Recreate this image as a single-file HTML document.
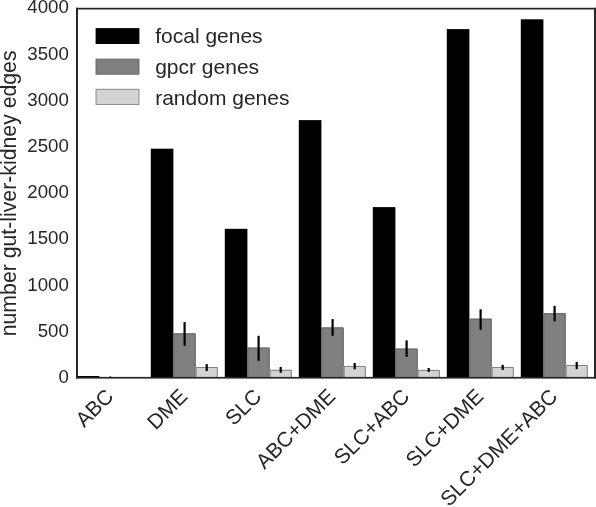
<!DOCTYPE html>
<html><head><meta charset="utf-8"><style>
html,body{margin:0;padding:0;background:#fff;}
body{width:596px;height:507px;overflow:hidden;}
svg{display:block;font-family:"Liberation Sans",sans-serif;will-change:transform;}
</style></head><body>
<svg width="596" height="507" viewBox="0 0 596 507">
<rect x="76.80" y="376.00" width="22.60" height="1.50" fill="#000"/>
<rect x="109.60" y="376.0" width="1.6" height="1.0" fill="#555"/>
<rect x="150.80" y="148.70" width="22.60" height="228.80" fill="#000"/>
<rect x="173.40" y="333.40" width="22.25" height="44.10" fill="#808080" />
<path d="M173.90,377.5 V333.90 H195.15 V377.5" fill="none" stroke="#626262" stroke-width="1"/>
<rect x="195.65" y="367.00" width="22.15" height="10.50" fill="#d3d3d3" />
<path d="M196.15,377.5 V367.50 H217.30 V377.5" fill="none" stroke="#808080" stroke-width="1"/>
<line x1="184.60" x2="184.60" y1="322.1" y2="345.8" stroke="#000" stroke-width="2.2"/>
<line x1="206.70" x2="206.70" y1="364.1" y2="371.1" stroke="#000" stroke-width="2.2"/>
<rect x="224.80" y="228.80" width="22.60" height="148.70" fill="#000"/>
<rect x="247.40" y="347.60" width="22.25" height="29.90" fill="#808080" />
<path d="M247.90,377.5 V348.10 H269.15 V377.5" fill="none" stroke="#626262" stroke-width="1"/>
<rect x="269.65" y="369.80" width="22.15" height="7.70" fill="#d3d3d3" />
<path d="M270.15,377.5 V370.30 H291.30 V377.5" fill="none" stroke="#808080" stroke-width="1"/>
<line x1="258.60" x2="258.60" y1="335.8" y2="360.9" stroke="#000" stroke-width="2.2"/>
<line x1="280.70" x2="280.70" y1="367.0" y2="372.8" stroke="#000" stroke-width="2.2"/>
<rect x="298.80" y="120.10" width="22.60" height="257.40" fill="#000"/>
<rect x="321.40" y="327.45" width="22.25" height="50.05" fill="#808080" />
<path d="M321.90,377.5 V327.95 H343.15 V377.5" fill="none" stroke="#626262" stroke-width="1"/>
<rect x="343.65" y="365.95" width="22.15" height="11.55" fill="#d3d3d3" />
<path d="M344.15,377.5 V366.45 H365.30 V377.5" fill="none" stroke="#808080" stroke-width="1"/>
<line x1="332.60" x2="332.60" y1="319.1" y2="335.8" stroke="#000" stroke-width="2.2"/>
<line x1="354.70" x2="354.70" y1="363.0" y2="369.3" stroke="#000" stroke-width="2.2"/>
<rect x="372.80" y="207.10" width="22.60" height="170.40" fill="#000"/>
<rect x="395.40" y="348.60" width="22.25" height="28.90" fill="#808080" />
<path d="M395.90,377.5 V349.10 H417.15 V377.5" fill="none" stroke="#626262" stroke-width="1"/>
<rect x="417.65" y="369.95" width="22.15" height="7.55" fill="#d3d3d3" />
<path d="M418.15,377.5 V370.45 H439.30 V377.5" fill="none" stroke="#808080" stroke-width="1"/>
<line x1="406.60" x2="406.60" y1="340.4" y2="356.8" stroke="#000" stroke-width="2.2"/>
<line x1="428.70" x2="428.70" y1="368.0" y2="371.9" stroke="#000" stroke-width="2.2"/>
<rect x="446.80" y="29.10" width="22.60" height="348.40" fill="#000"/>
<rect x="469.40" y="318.70" width="22.25" height="58.80" fill="#808080" />
<path d="M469.90,377.5 V319.20 H491.15 V377.5" fill="none" stroke="#626262" stroke-width="1"/>
<rect x="491.65" y="366.95" width="22.15" height="10.55" fill="#d3d3d3" />
<path d="M492.15,377.5 V367.45 H513.30 V377.5" fill="none" stroke="#808080" stroke-width="1"/>
<line x1="480.60" x2="480.60" y1="309.3" y2="329.9" stroke="#000" stroke-width="2.2"/>
<line x1="502.70" x2="502.70" y1="364.85" y2="369.9" stroke="#000" stroke-width="2.2"/>
<rect x="520.80" y="19.30" width="22.60" height="358.20" fill="#000"/>
<rect x="543.40" y="313.25" width="22.25" height="64.25" fill="#808080" />
<path d="M543.90,377.5 V313.75 H565.15 V377.5" fill="none" stroke="#626262" stroke-width="1"/>
<rect x="565.65" y="364.95" width="22.15" height="12.55" fill="#d3d3d3" />
<path d="M566.15,377.5 V365.45 H587.30 V377.5" fill="none" stroke="#808080" stroke-width="1"/>
<line x1="554.60" x2="554.60" y1="305.9" y2="321.3" stroke="#000" stroke-width="2.2"/>
<line x1="576.70" x2="576.70" y1="362.0" y2="369.1" stroke="#000" stroke-width="2.2"/>
<rect x="76.00" y="7.80" width="520.00" height="1.70" fill="#262626" />
<rect x="76.00" y="376.90" width="520.00" height="1.70" fill="#262626" />
<rect x="76.00" y="7.80" width="2.00" height="370.70" fill="#262626" />
<rect x="594.00" y="7.80" width="2.00" height="370.70" fill="#262626" />
<text x="68.85" y="383.20" text-anchor="end" font-size="18.7" fill="#262626">0</text>
<text x="68.85" y="336.96" text-anchor="end" font-size="18.7" fill="#262626">500</text>
<text x="68.85" y="290.72" text-anchor="end" font-size="18.7" fill="#262626">1000</text>
<text x="68.85" y="244.48" text-anchor="end" font-size="18.7" fill="#262626">1500</text>
<text x="68.85" y="198.24" text-anchor="end" font-size="18.7" fill="#262626">2000</text>
<text x="68.85" y="152.00" text-anchor="end" font-size="18.7" fill="#262626">2500</text>
<text x="68.85" y="105.76" text-anchor="end" font-size="18.7" fill="#262626">3000</text>
<text x="68.85" y="59.52" text-anchor="end" font-size="18.7" fill="#262626">3500</text>
<text x="68.85" y="13.28" text-anchor="end" font-size="18.7" fill="#262626">4000</text>
<rect x="95.60" y="28.10" width="43.80" height="15.90" fill="#000" />
<text x="155.2" y="43.00" font-size="21" fill="#262626">focal genes</text>
<rect x="96.00" y="59.10" width="43.00" height="15.10" fill="#808080" stroke="#626262" stroke-width="0.9"/>
<text x="155.2" y="74.00" font-size="21" fill="#262626">gpcr genes</text>
<rect x="96.00" y="89.30" width="43.00" height="15.10" fill="#d3d3d3" stroke="#808080" stroke-width="0.9"/>
<text x="155.2" y="105.10" font-size="21" fill="#262626">random genes</text>
<text transform="translate(16.1,193.35) rotate(-90)" text-anchor="middle" font-size="21.25" fill="#262626">number gut-liver-kidney edges</text>
<text transform="translate(114.70,397.70) rotate(-45)" text-anchor="end" font-size="21" fill="#262626">ABC</text>
<text transform="translate(188.70,397.70) rotate(-45)" text-anchor="end" font-size="21" fill="#262626">DME</text>
<text transform="translate(262.70,397.70) rotate(-45)" text-anchor="end" font-size="21" fill="#262626">SLC</text>
<text transform="translate(336.70,397.70) rotate(-45)" text-anchor="end" font-size="21" fill="#262626">ABC+DME</text>
<text transform="translate(410.70,397.70) rotate(-45)" text-anchor="end" font-size="21" fill="#262626">SLC+ABC</text>
<text transform="translate(484.70,397.70) rotate(-45)" text-anchor="end" font-size="21" fill="#262626">SLC+DME</text>
<text transform="translate(558.70,397.70) rotate(-45)" text-anchor="end" font-size="21" fill="#262626">SLC+DME+ABC</text>
</svg>
</body></html>
